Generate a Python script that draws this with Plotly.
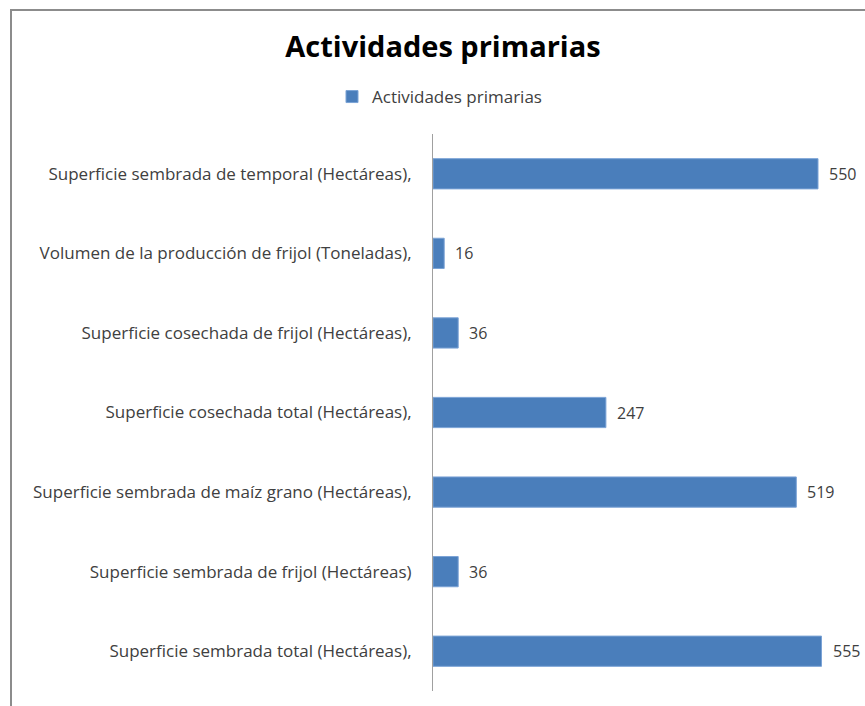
import plotly.graph_objects as go

categories = [
    "Superficie sembrada total (Hectáreas),",
    "Superficie sembrada de frijol (Hectáreas)",
    "Superficie sembrada de maíz grano (Hectáreas),",
    "Superficie cosechada total (Hectáreas),",
    "Superficie cosechada de frijol (Hectáreas),",
    "Volumen de la producción de frijol (Toneladas),",
    "Superficie sembrada de temporal (Hectáreas),",
]
values = [555, 36, 519, 247, 36, 16, 550]
series_name = "Actividades primarias"
title_text = "Actividades primarias"

W, H = 865, 706
ML, MR, MT, MB = 433, 12, 134, 15
pw = W - ML - MR
ph = H - MT - MB

fig = go.Figure()
fig.add_trace(go.Bar(
    y=categories, x=values, orientation="h", name=series_name,
    marker=dict(color="#4A7EBB", line=dict(color="#7BA3D6", width=1)),
    width=0.38, showlegend=True,
))

for c, v in zip(categories, values):
    fig.add_annotation(x=v, y=c, text=str(v), showarrow=False,
                       xanchor="left", xshift=9,
                       font=dict(family="Open Sans", size=16, color="#404040"))

# outer frame
fig.add_shape(type="rect", xref="paper", yref="paper",
              x0=(11 - ML) / pw, x1=(875 - ML) / pw,
              y0=-(20) / ph, y1=(H - MB - 10) / ph,
              line=dict(color="#8C8C8C", width=2), layer="below")

fig.update_layout(
    width=W, height=H,
    margin=dict(l=ML, r=MR, t=MT, b=MB, autoexpand=False),
    paper_bgcolor="white", plot_bgcolor="white",
    title=dict(text="<b>" + title_text + "</b>", x=443 / W, xanchor="center",
               y=1 - 47 / H, yanchor="middle", yref="container",
               font=dict(family="Open Sans", size=29, color="#000000")),
    legend=dict(orientation="h", x=332 / W, xanchor="left", xref="container",
                y=1 - 97 / H, yanchor="middle", yref="container",
                font=dict(family="Open Sans", size=17, color="#404040"),
                itemwidth=30),
    xaxis=dict(range=[0, 600], visible=False),
    yaxis=dict(showline=True, linecolor="#A0A0A0", linewidth=1,
               ticks="", ticklabelstandoff=17,
               tickfont=dict(family="Open Sans", size=17, color="#404040"),
               categoryorder="array", categoryarray=categories),
)

fig.write_html("out.html", config={"displayModeBar": False},
               post_script="document.body.style.margin='0';document.body.style.overflow='hidden';")
